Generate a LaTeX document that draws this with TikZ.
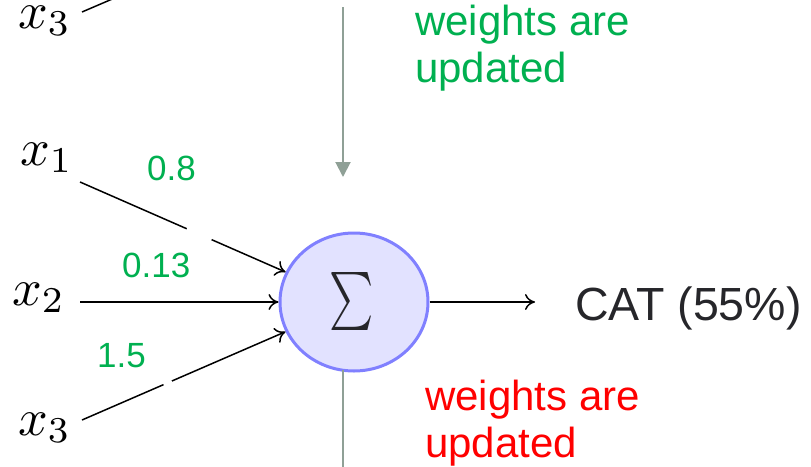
\documentclass[tikz,border=0pt]{standalone}
\usepackage{fontspec}
\newfontfamily\arialf{Liberation Sans}
\usetikzlibrary{arrows.meta,shapes.geometric,calc}

\definecolor{wgreen}{RGB}{0,176,80}
\definecolor{wred}{RGB}{255,0,0}
\definecolor{feedgray}{RGB}{143,160,150}
\definecolor{neuronline}{RGB}{128,128,255}
\definecolor{neuronfill}{RGB}{226,226,255}
\definecolor{outtext}{RGB}{38,38,42}

\tikzset{
  inp/.style={anchor=base west, inner sep=0pt, scale=5.2, transform shape},
  wlab/.style={anchor=base west, inner sep=0pt, text=wgreen, font=\arialf\fontsize{35}{42}\selectfont},
  note/.style={anchor=base west, inner sep=0pt, align=left, font=\arialf\fontsize{42}{47}\selectfont},
  conn/.style={line width=1.5pt, -{Computer Modern Rightarrow[length=10pt,width=16pt]}},
  feed/.style={draw=feedgray, line width=2pt},
  neuron/.style={ellipse, draw=neuronline, fill=neuronfill, line width=3pt,
                 minimum width=148pt, minimum height=138pt, inner sep=0pt},
  gapmask/.style={draw=white, line width=4pt}
}

\begin{document}
\begin{tikzpicture}[x=1pt,y=-1pt]
  \useasboundingbox (0,0) rectangle (811,466);
  \clip (0,0) rectangle (811,466);

  % summing unit
  \node[neuron] (sum) at (354,302) {};
  \node[inner sep=0pt, xscale=4.2, yscale=5.8, text=outtext] (sigma) at (352,301)
       {$\textstyle\sum$};

  % inputs
  \node[inp] (x0) at (17,28) {$x_3$};
  \node[inp] (x1) at (19,165) {$x_1$};
  \node[inp] (x2) at (11,305) {$x_2$};
  \node[inp] (x3) at (17,435) {$x_3$};

  \coordinate (s0) at (82,12);
  \coordinate (e0) at (124,-6);
  \coordinate (s1) at (80,182);
  \coordinate (s2) at (80,302);
  \coordinate (s3) at (82,420);

  \draw[line width=1.5pt] (s0) -- (e0);
  \draw[conn] (s1) -- (sum);
  \draw[conn] (s2) -- (sum.west);
  \draw[conn] (s3) -- (sum);

  % small breaks in the weighted inputs
  \draw[gapmask] ($(s1)!0.39!(sum.center)$) -- ($(s1)!0.48!(sum.center)$);
  \draw[gapmask] ($(s3)!0.30!(sum.center)$) -- ($(s3)!0.33!(sum.center)$);

  % weights
  \node[wlab] (w1) at (147,180) {0.8};
  \node[wlab] (w2) at (122,277) {0.13};
  \node[wlab] (w3) at (97,367) {1.5};

  % output
  \coordinate (out) at (535,302);
  \draw[conn] (sum) -- (out);
  \node[anchor=base west, inner sep=0pt, text=outtext,
        font=\arialf\fontsize{46.5}{54}\selectfont] (cat) at (575,320) {CAT (55\%)};

  % weight update feedback
  \coordinate (ftop) at (343,7);
  \coordinate (ftip) at (343,177);
  \draw[feed, -{Triangle[length=15pt,width=15pt]}, feedgray] (ftop) -- (ftip);
  \coordinate (fbot0) at (343,370);
  \coordinate (fbot1) at (343,470);
  \draw[feed] (fbot0) -- (fbot1);

  \node[note, text=wgreen] (upd1) at (415,82) {weights are\\updated};
  \node[note, text=wred] (upd2) at (425,457) {weights are\\updated};
\end{tikzpicture}
\end{document}
